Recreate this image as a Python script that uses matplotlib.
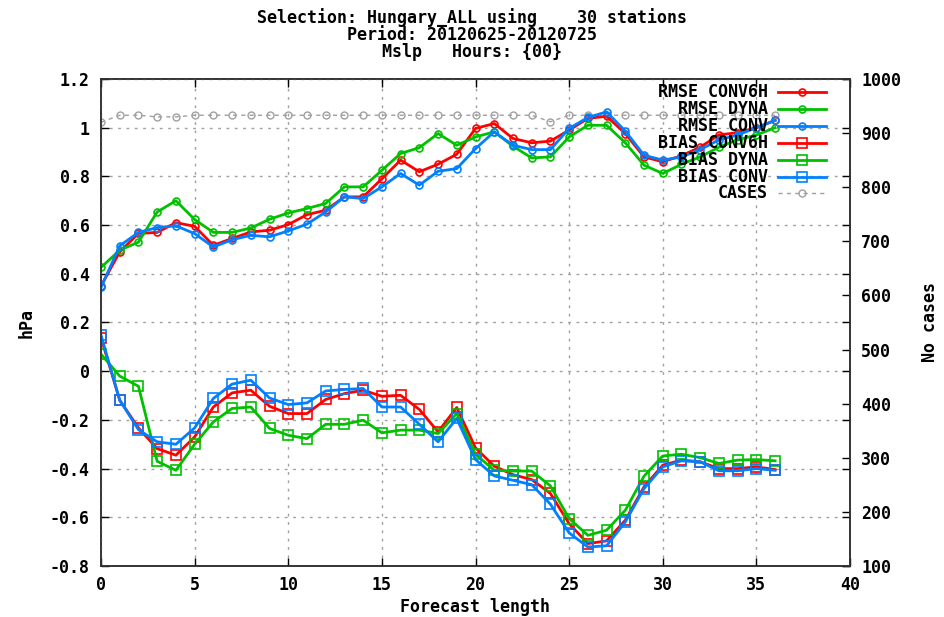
import numpy as np
import matplotlib
matplotlib.use('Agg')
import matplotlib.pyplot as plt
from matplotlib.lines import Line2D

# forecast hours
hours = np.arange(0, 37)

# RMSE
rmse_conv6h = [0.35, 0.49, 0.566, 0.57, 0.61, 0.595, 0.517, 0.545, 0.572, 0.579,
               0.602, 0.643, 0.661, 0.716, 0.716, 0.79, 0.867, 0.819, 0.85, 0.891,
               0.997, 1.017, 0.956, 0.938, 0.945, 0.99, 1.038, 1.047, 0.976, 0.88,
               0.86, 0.885, 0.92, 0.97, 0.98, 1.0, 1.03]
rmse_dyna = [0.426, 0.497, 0.53, 0.654, 0.70, 0.623, 0.57, 0.57, 0.588, 0.624,
             0.65, 0.668, 0.689, 0.757, 0.757, 0.825, 0.894, 0.918, 0.976, 0.928,
             0.962, 0.983, 0.924, 0.876, 0.88, 0.962, 1.01, 1.01, 0.938, 0.846,
             0.812, 0.85, 0.88, 0.92, 0.95, 0.97, 1.0]
rmse_conv = [0.344, 0.515, 0.57, 0.59, 0.597, 0.565, 0.51, 0.54, 0.558, 0.552,
             0.576, 0.604, 0.654, 0.716, 0.709, 0.757, 0.812, 0.764, 0.821, 0.832,
             0.914, 0.983, 0.928, 0.91, 0.91, 0.997, 1.042, 1.065, 0.986, 0.887,
             0.867, 0.88, 0.91, 0.95, 0.97, 1.0, 1.03]

# BIAS
bias_conv6h = [0.138, -0.119, -0.233, -0.318, -0.345, -0.27, -0.147, -0.089, -0.078, -0.144,
               -0.174, -0.174, -0.116, -0.092, -0.078, -0.103, -0.099, -0.157, -0.249, -0.149,
               -0.315, -0.39, -0.425, -0.445, -0.502, -0.626, -0.708, -0.697, -0.612, -0.475,
               -0.386, -0.365, -0.372, -0.40, -0.40, -0.393, -0.404]
bias_dyna = [0.07, -0.02, -0.062, -0.37, -0.407, -0.30, -0.208, -0.153, -0.147, -0.235,
             -0.263, -0.277, -0.218, -0.218, -0.201, -0.253, -0.242, -0.242, -0.256, -0.174,
             -0.341, -0.407, -0.41, -0.41, -0.471, -0.605, -0.674, -0.653, -0.571, -0.431,
             -0.348, -0.341, -0.355, -0.379, -0.365, -0.363, -0.368]
bias_conv = [0.148, -0.119, -0.24, -0.29, -0.30, -0.233, -0.112, -0.053, -0.037, -0.11,
             -0.137, -0.13, -0.081, -0.075, -0.071, -0.147, -0.147, -0.218, -0.29, -0.194,
             -0.363, -0.43, -0.448, -0.466, -0.546, -0.664, -0.722, -0.717, -0.619, -0.482,
             -0.393, -0.368, -0.372, -0.409, -0.409, -0.40, -0.407]

# number of cases (right axis)
cases = [920, 933, 933, 930, 930] + [933] * 19 + [921] + [933] * 12

RED = '#ff0000'
GREEN = '#00c000'
BLUE = '#0080ff'
GRAY = '#a0a0a0'

FS = 12
FONT = dict(family='DejaVu Sans Mono', weight='bold', size=FS)
plt.rcParams['font.family'] = 'DejaVu Sans Mono'
plt.rcParams['font.weight'] = 'bold'

W, H = 944, 617
fig = plt.figure(figsize=(W / 100, H / 100), dpi=100)
ax = fig.add_axes([101 / W, 1 - 566 / H, (850 - 101) / W, (566 - 79) / H])
ax2 = ax.twinx()

lw = 2.0
rmse_style = dict(lw=lw, marker='o', ms=5, mfc='none', mew=1.2)
bias_style = dict(lw=lw, marker='s', ms=7, mfc='none', mew=1.2)
cases_style = dict(color=GRAY, lw=1.0, ls=(0, (3, 3)), marker='o', ms=5, mfc='none', mec=GRAY, mew=1.0)

ax2.plot(hours, cases, **cases_style)

ax.plot(hours, rmse_conv6h, color=RED, **rmse_style)
ax.plot(hours, rmse_dyna, color=GREEN, **rmse_style)
ax.plot(hours, rmse_conv, color=BLUE, **rmse_style)
ax.plot(hours, bias_conv6h, color=RED, **bias_style)
ax.plot(hours, bias_dyna, color=GREEN, **bias_style)
ax.plot(hours, bias_conv, color=BLUE, **bias_style)

ax.set_zorder(ax2.get_zorder() + 1)
ax.patch.set_visible(False)

ax.set_xlim(0, 40)
ax.set_ylim(-0.8, 1.2)
ax.set_xticks(np.arange(0, 41, 5))
ax.set_yticks(np.round(np.arange(-0.8, 1.21, 0.2), 1))
ax.set_yticklabels(['-0.8', '-0.6', '-0.4', '-0.2', '0', '0.2', '0.4', '0.6', '0.8', '1', '1.2'])
ax2.set_ylim(100, 1000)
ax2.set_yticks(np.arange(100, 1001, 100))

ax.tick_params(direction='in', top=True, right=True, length=6, width=1, labelsize=FS, pad=8)
ax.tick_params(axis='x', pad=7)
ax2.tick_params(direction='in', length=6, width=1, labelsize=FS, pad=8)
for lab in ax.get_xticklabels() + ax.get_yticklabels() + ax2.get_yticklabels():
    lab.set_fontweight('bold')

ax.grid(True, color=GRAY, ls=(0, (2, 4)), lw=1.0)
for sp in list(ax.spines.values()) + list(ax2.spines.values()):
    sp.set_linewidth(1.2)
    sp.set_color('#333333')

ax.set_ylabel('hPa', fontdict=FONT, labelpad=10)
ax2.set_ylabel('No cases', fontdict=FONT, labelpad=14)
fig.text(475 / W, 1 - 607 / H, 'Forecast length', ha='center', va='center', **FONT)

fig.text(0.5, 1 - 18 / H, 'Selection: Hungary_ALL using    30 stations', ha='center', va='center', **FONT)
fig.text(0.5, 1 - 35 / H, 'Period: 20120625-20120725', ha='center', va='center', **FONT)
fig.text(0.5, 1 - 52 / H, 'Mslp   Hours: {00}', ha='center', va='center', **FONT)

# gnuplot-style key: right-aligned text, sample line to the right
key = [('RMSE CONV6H', RED, rmse_style), ('RMSE DYNA', GREEN, rmse_style),
       ('RMSE CONV', BLUE, rmse_style), ('BIAS CONV6H', RED, bias_style),
       ('BIAS DYNA', GREEN, bias_style), ('BIAS CONV', BLUE, bias_style),
       ('CASES', GRAY, cases_style)]
for i, (name, col, st) in enumerate(key):
    y = 1 - (92 + 16.9 * i) / H
    fig.text(768 / W, y, name, ha='right', va='center', **FONT)
    st2 = dict(st)
    st2.pop('marker'); st2.pop('ms'); st2.pop('mfc'); st2.pop('mew'); st2.pop('mec', None)
    st2.setdefault('color', col)
    fig.add_artist(Line2D([778 / W, 826 / W], [y, y], transform=fig.transFigure, **st2))
    fig.add_artist(Line2D([802 / W], [y], transform=fig.transFigure, ls='none',
                          marker=st['marker'], ms=st['ms'], mfc='none', mec=col, mew=st['mew']))

fig.savefig('out.png', dpi=100)
